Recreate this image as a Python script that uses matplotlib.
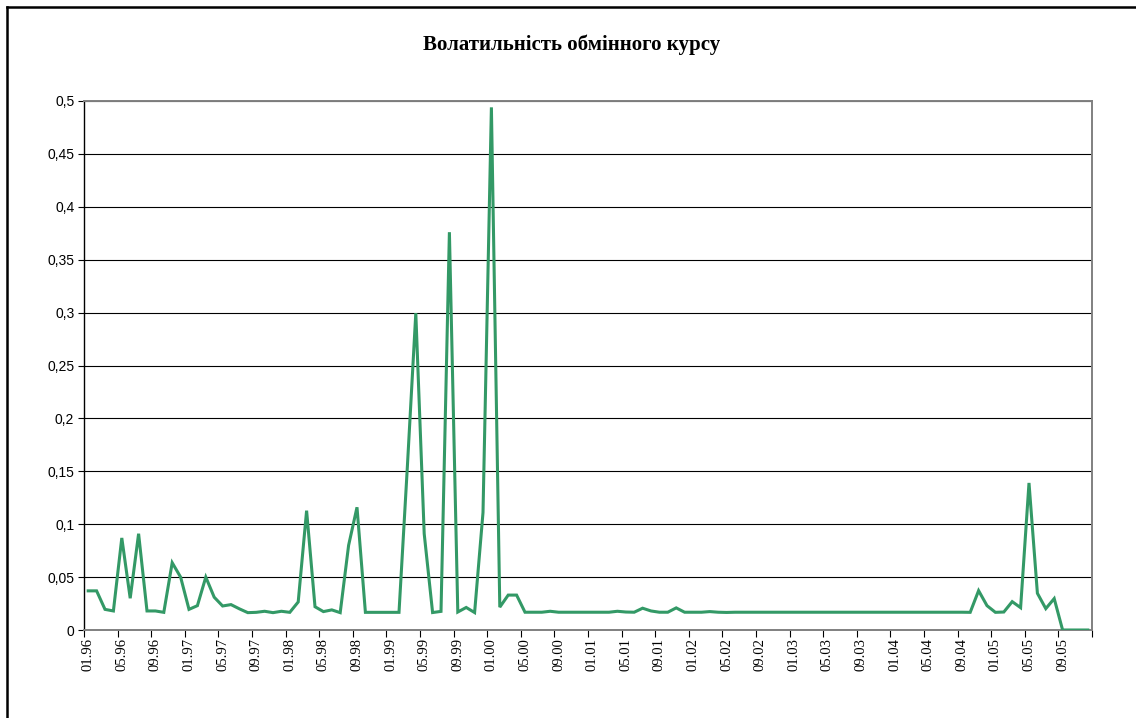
import matplotlib
matplotlib.use("Agg")
import matplotlib.pyplot as plt
from matplotlib.lines import Line2D
import numpy as np

title = "Волатильність обмінного курсу"

volatility = [
    0.037, 0.037, 0.0195, 0.018, 0.087, 0.030, 0.091, 0.018, 0.018, 0.0167,
    0.0636, 0.050, 0.0195, 0.023, 0.050, 0.031, 0.0227, 0.024, 0.020, 0.0164,
    0.0167, 0.0177, 0.0164, 0.0177, 0.0167, 0.0265, 0.1128, 0.022, 0.0174, 0.019,
    0.0164, 0.080, 0.116, 0.0167, 0.0167, 0.0167, 0.0167, 0.0167, 0.155, 0.2995,
    0.091, 0.0165, 0.0176, 0.376, 0.017, 0.0213, 0.0165, 0.111, 0.494, 0.0216,
    0.0330, 0.0330, 0.0168, 0.0168, 0.0168, 0.0177, 0.0168, 0.0168, 0.0168, 0.0168,
    0.0168, 0.0168, 0.0168, 0.0177, 0.0170, 0.0168, 0.0206, 0.0180, 0.0168, 0.0168,
    0.0209, 0.0168, 0.0168, 0.0168, 0.0174, 0.0168, 0.0166, 0.0168, 0.0168, 0.0168,
    0.0168, 0.0168, 0.0168, 0.0168, 0.0168, 0.0168, 0.0168, 0.0168, 0.0168, 0.0168,
    0.0168, 0.0168, 0.0168, 0.0168, 0.0168, 0.0168, 0.0168, 0.0168, 0.0168, 0.0168,
    0.0168, 0.0168, 0.0168, 0.0168, 0.0168, 0.0167, 0.0372, 0.023, 0.0167, 0.017,
    0.0268, 0.0211, 0.139, 0.0347, 0.0202, 0.0297, 0.0, 0.0, 0.0, 0.0,
]

x_labels = [
    "01.96", "05.96", "09.96", "01.97", "05.97", "09.97", "01.98", "05.98",
    "09.98", "01.99", "05.99", "09.99", "01.00", "05.00", "09.00", "01.01",
    "05.01", "09.01", "01.02", "05.02", "09.02", "01.03", "05.03", "09.03",
    "01.04", "05.04", "09.04", "01.05", "05.05", "09.05",
]
y_ticks = [0, 0.05, 0.1, 0.15, 0.2, 0.25, 0.3, 0.35, 0.4, 0.45, 0.5]
y_labels = ["0", "0,05", "0,1", "0,15", "0,2", "0,25", "0,3", "0,35", "0,4", "0,45", "0,5"]

W, H = 1136, 718
fig = plt.figure(figsize=(W / 100, H / 100), dpi=100)
fig.patch.set_facecolor("white")

left, right, top, bottom = 84, 1092, 101, 630
ax = fig.add_axes([left / W, 1 - bottom / H, (right - left) / W, (bottom - top) / H])

n = len(volatility)
x = np.arange(n)
ax.plot(x, volatility, color="#339966", lw=2.2, solid_joinstyle="miter", zorder=3)

ax.set_xlim(-0.5, n - 0.5)
ax.set_ylim(0, 0.5)

# gridlines
ax.set_yticks(y_ticks)
ax.set_yticklabels(y_labels, fontsize=10, family="Liberation Sans")
ax.yaxis.grid(True, color="black", lw=0.8)
ax.set_axisbelow(True)

# category axis: ticks between categories, labels at every 4th category
ax.set_xticks(np.arange(-0.5, n, 4))
ax.set_xticklabels([])
ax.set_xticks(np.arange(0, n, 4)[:len(x_labels)], minor=True)
ax.set_xticklabels(x_labels, minor=True, rotation=90, fontsize=10.5,
                   family="Liberation Serif", va="top", ha="center")
ax.tick_params(axis="x", which="major", direction="out", length=5, width=0.8, color="black")
ax.tick_params(axis="x", which="minor", length=0, pad=6)
ax.tick_params(axis="y", direction="out", length=4, width=0.8, color="black", pad=3)

for s in ["top", "right"]:
    ax.spines[s].set_color("#808080")
    ax.spines[s].set_linewidth(1.4)
ax.spines["left"].set_color("black")
ax.spines["left"].set_linewidth(1.0)
ax.spines["bottom"].set_color("#808080")
ax.spines["bottom"].set_linewidth(1.4)

fig.text(572 / W, 1 - 45 / H, title, ha="center", va="center",
         fontsize=15, fontweight="bold", family="Liberation Serif")

# outer chart-area border (left and top visible)
fig.add_artist(Line2D([7 / W, 7 / W], [0, 1 - 7 / H], color="black", lw=1.8,
                      transform=fig.transFigure))
fig.add_artist(Line2D([7 / W, 1], [1 - 7 / H, 1 - 7 / H], color="black", lw=1.8,
                      transform=fig.transFigure))

fig.savefig("out.png", dpi=100)
